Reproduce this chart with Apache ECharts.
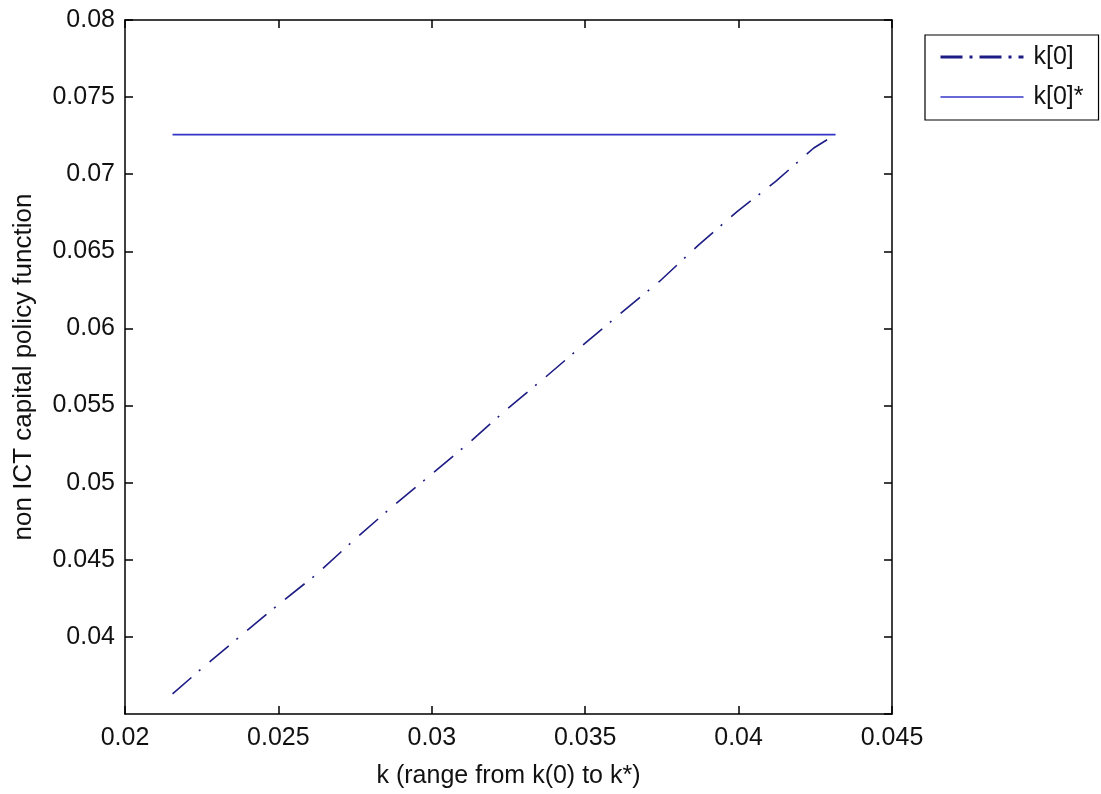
<!DOCTYPE html>
<html>
<head>
<meta charset="utf-8">
<title>non ICT capital policy function</title>
<script src="https://cdn.jsdelivr.net/npm/echarts@6/dist/echarts.min.js"></script>
<style>
	html, body { margin: 0; padding: 0; background: #fff; }
	#chart { width: 1101px; height: 794px; }
</style>
</head>
<body>
<div id="chart"></div>
<script>
// 数据
var kX = [0.02155, 0.0225, 0.02373, 0.02497, 0.02623, 0.02746, 0.0287, 0.02998, 0.03121, 0.03245,
	0.03368, 0.03499, 0.03615, 0.03741, 0.0387, 0.03995, 0.0412, 0.04245, 0.04316];
var kY = [0.0363, 0.03795, 0.0400, 0.04205, 0.04404, 0.04627, 0.04843, 0.05053, 0.05258, 0.05477,
	0.0568, 0.05903, 0.06097, 0.06303, 0.06542, 0.06758, 0.06952, 0.0717, 0.07257];
var kStarX = [0.02155, 0.04316];
var kStarY = [0.07257, 0.07257];

var seriesNames = ['k[0]', 'k[0]*'];
var xTitle = 'k (range from k(0) to k*)';
var yTitle = 'non ICT capital policy function';

function pairs(xs, ys) {
	var out = [];
	for (var i = 0; i < xs.length; i++) {
		out.push([xs[i], ys[i]]);
	}
	return out;
}

var FONT = 'Liberation Sans, Arial, sans-serif';
var DASH_COLOR = '#1c1c84';
var SOLID_COLOR = '#3434c8';

var chart = echarts.init(document.getElementById('chart'));

// 坐标轴公共样式
var axisLine = { show: true, lineStyle: { color: '#000', width: 1.5 } };
var axisTick = { show: true, inside: true, length: 8, lineStyle: { color: '#000', width: 1.5 } };

var option = {
	backgroundColor: '#fff',
	animation: false,
	grid: { left: 125, top: 20, right: 209, bottom: 80, containLabel: false },
	legend: {
		orient: 'vertical',
		left: 925,
		top: 35,
		padding: [9, 15, 10, 14],
		itemWidth: 83,
		itemHeight: 14,
		itemGap: 14,
		backgroundColor: '#fff',
		borderColor: '#000',
		borderWidth: 1.2,
		itemStyle: { opacity: 0 },// 隐藏图例中的圆点
		textStyle: { fontFamily: FONT, fontSize: 25, lineHeight: 26, color: '#111', padding: [0, 0, 0, 5] },
		data: [
			{ name: seriesNames[0], lineStyle: { color: DASH_COLOR, width: 3, type: [22, 7, 3, 7] } },
			{ name: seriesNames[1], lineStyle: { color: SOLID_COLOR, width: 1.6 } }
		]
	},
	xAxis: [
		{
			type: 'value',
			min: 0.02, max: 0.045, interval: 0.005,
			name: xTitle,
			nameLocation: 'middle',
			nameGap: 50,
			nameTextStyle: { fontFamily: FONT, fontSize: 25, color: '#111' },
			axisLine: axisLine,
			axisTick: axisTick,
			axisLabel: { fontFamily: FONT, fontSize: 25, color: '#111', margin: 12 },
			splitLine: { show: false }
		},
		{
			type: 'value', position: 'top',
			min: 0.02, max: 0.045, interval: 0.005,
			axisLine: axisLine,
			axisTick: axisTick,
			axisLabel: { show: false },
			splitLine: { show: false }
		}
	],
	yAxis: [
		{
			type: 'value',
			min: 0.035, max: 0.08, interval: 0.005,
			name: yTitle,
			nameLocation: 'middle',
			nameGap: 88,
			nameTextStyle: { fontFamily: FONT, fontSize: 26, color: '#111' },
			axisLine: axisLine,
			axisTick: axisTick,
			axisLabel: { fontFamily: FONT, fontSize: 25, color: '#111', margin: 10, showMinLabel: false },
			splitLine: { show: false }
		},
		{
			type: 'value', position: 'right',
			min: 0.035, max: 0.08, interval: 0.005,
			axisLine: axisLine,
			axisTick: axisTick,
			axisLabel: { show: false },
			splitLine: { show: false }
		}
	],
	series: [
		{
			name: seriesNames[0],
			type: 'line',
			xAxisIndex: 0, yAxisIndex: 0,
			showSymbol: false, symbol: 'none',
			lineStyle: { color: DASH_COLOR, width: 1.6, type: [25, 10, 2, 12] },
			itemStyle: { color: DASH_COLOR },
			data: pairs(kX, kY)
		},
		{
			name: seriesNames[1],
			type: 'line',
			xAxisIndex: 0, yAxisIndex: 0,
			showSymbol: false, symbol: 'none',
			lineStyle: { color: SOLID_COLOR, width: 1.6 },
			itemStyle: { color: SOLID_COLOR },
			data: pairs(kStarX, kStarY)
		}
	]
};

chart.setOption(option);
</script>
</body>
</html>
